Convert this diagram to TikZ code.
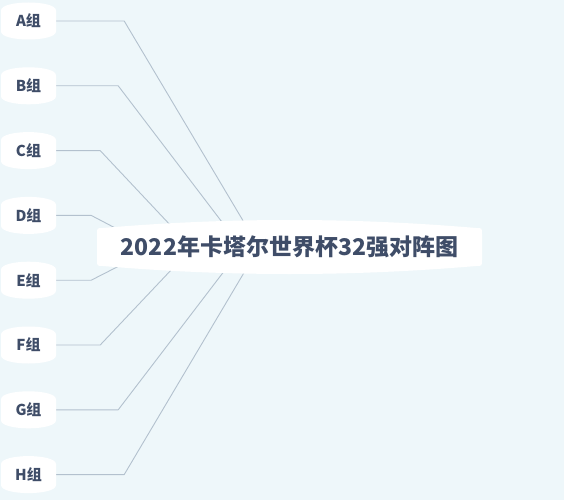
\documentclass[tikz,border=0pt]{standalone}
\usepackage{fontspec}
\setmainfont{Noto Sans CJK SC}
\usetikzlibrary{calc,backgrounds}
\definecolor{bgc}{HTML}{EEF7FA}
\definecolor{txt}{HTML}{3F4D68}
\definecolor{lnc}{HTML}{B3C1CE}
\tikzset{
  barrel/.style 2 args={path picture={
    \fill[white] let \p1=(path picture bounding box.south west),
                     \p2=(path picture bounding box.north east) in
      (\x1,{\y2-#1-#2}) .. controls (\x1,{\y2-#1}) .. ({\x1+#2},{\y2-#1})
      .. controls ({\x1+#2+(\x2-\x1-2*#2)/3},{\y2+#1/3}) and ({\x2-#2-(\x2-\x1-2*#2)/3},{\y2+#1/3}) .. ({\x2-#2},{\y2-#1})
      .. controls (\x2,{\y2-#1}) .. (\x2,{\y2-#1-#2})
      -- (\x2,{\y1+#1+#2})
      .. controls (\x2,{\y1+#1}) .. ({\x2-#2},{\y1+#1})
      .. controls ({\x2-#2-(\x2-\x1-2*#2)/3},{\y1-#1/3}) and ({\x1+#2+(\x2-\x1-2*#2)/3},{\y1-#1/3}) .. ({\x1+#2},{\y1+#1})
      .. controls (\x1,{\y1+#1}) .. (\x1,{\y1+#1+#2}) -- cycle;
  }},
  arch/.style={path picture={
    \fill[white] let \p1=(path picture bounding box.south west),
                     \p2=(path picture bounding box.north east) in
      (\x1,{\y2-#1}) .. controls (\x1,{\y2+#1/3}) and (\x2,{\y2+#1/3}) .. (\x2,{\y2-#1})
      -- (\x2,{\y1+#1})
      .. controls (\x2,{\y1-#1/3}) and (\x1,{\y1-#1/3}) .. (\x1,{\y1+#1}) -- cycle;
  }},
  leaf/.style={arch={8pt}, minimum width=55pt, minimum height=37pt, inner sep=0pt,
    text=txt, font=\fontsize{15pt}{17pt}\selectfont\bfseries},
  root/.style={barrel={8pt}{6pt}, minimum width=385pt, minimum height=54pt, inner sep=0pt,
    text=txt, font=\fontsize{23pt}{26pt}\selectfont\bfseries},
  link/.style={draw=lnc, line width=0.9pt, line join=round},
}
\begin{document}
\begin{tikzpicture}[x=1pt,y=-1pt]
\useasboundingbox (0,0) rectangle (564,500);
\node[root] (T) at (289.5,247) {2022年卡塔尔世界杯32强对阵图};
\node[leaf] (A) at (28.5,21) {A组};
\node[leaf] (B) at (28.5,85.8) {B组};
\node[leaf] (C) at (28.5,150.6) {C组};
\node[leaf] (D) at (28.5,215.4) {D组};
\node[leaf] (E) at (28.5,280.2) {E组};
\node[leaf] (F) at (28.5,345) {F组};
\node[leaf] (G) at (28.5,409.8) {G组};
\node[leaf] (H) at (28.5,474.6) {H组};
\coordinate (ta) at (245,224);
\coordinate (tb) at (225,226);
\coordinate (tc) at (173,228);
\coordinate (td) at (121,231);
\coordinate (te) at (121,265);
\coordinate (tf) at (173,268);
\coordinate (tg) at (225,270);
\coordinate (th) at (245,271);
\begin{scope}[on background layer]
\fill[bgc] (0,0) rectangle (564,500);
\draw[link] (A.east) -- ++(68,0) -- (ta);
\draw[link] (B.east) -- ++(62,0) -- (tb);
\draw[link] (C.east) -- ++(44,0) -- (tc);
\draw[link] (D.east) -- ++(35,0) -- (td);
\draw[link] (E.east) -- ++(35,0) -- (te);
\draw[link] (F.east) -- ++(44,0) -- (tf);
\draw[link] (G.east) -- ++(62,0) -- (tg);
\draw[link] (H.east) -- ++(68,0) -- (th);
\end{scope}
\end{tikzpicture}
\end{document}
